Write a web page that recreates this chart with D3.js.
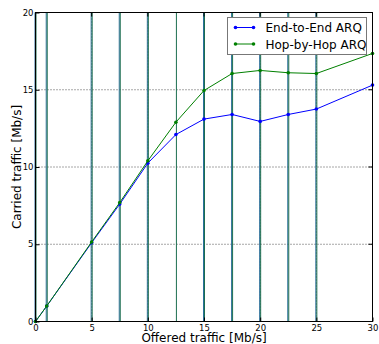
<!DOCTYPE html>
<html lang="en">
<head>
<meta charset="utf-8">
<script src="https://d3js.org/d3.v7.min.js"></script>
<style>
  body { margin: 0; background: #fff; }
  text { font-family: "DejaVu Sans", sans-serif; }
</style>
</head>
<body>
<script>
    var width = 379, height = 344;
    var padL = 35.5, padR = 372.5, padT = 12.5, padB = 321.5;

    // data
    var offered = [0, 1, 5, 7.5, 10, 12.5, 15, 17.5, 20, 22.5, 25, 30];
    var endToEnd = [0, 1, 5.1, 7.6, 10.25, 12.1, 13.1, 13.4, 12.95, 13.4, 13.75, 15.3];
    var hopByHop = [0, 1, 5.15, 7.7, 10.4, 12.9, 14.95, 16.05, 16.25, 16.1, 16.05, 17.35];
    var xTicks = [0, 5, 10, 15, 20, 25, 30];
    var yTicks = [0, 5, 10, 15, 20];
    // x positions where the (full height) error bars show up
    var blueBars = [0, 1, 5, 7.5, 10, 15, 17.5, 20, 22.5, 25];
    var greenBars = [0, 1, 5, 7.5, 10, 12.5, 15, 17.5, 20, 22.5, 25];

    var svg = d3.select("body").append("svg")
        .attr("width", width).attr("height", height);

    var x = d3.scaleLinear().domain([0, 30]).range([padL, padR]);
    var y = d3.scaleLinear().domain([0, 20]).range([padB, padT]);

    // grid
    svg.selectAll(".gx").data(xTicks).enter().append("line")
        .attr("x1", d => x(d)).attr("x2", d => x(d))
        .attr("y1", padT).attr("y2", padB)
        .attr("stroke", "#000").attr("stroke-width", 0.7)
        .attr("stroke-dasharray", "1,2");
    svg.selectAll(".gy").data(yTicks).enter().append("line")
        .attr("x1", padL).attr("x2", padR)
        .attr("y1", d => y(d)).attr("y2", d => y(d))
        .attr("stroke", "#000").attr("stroke-width", 0.7)
        .attr("stroke-dasharray", "1,2");

    // error bars (span the whole range)
    svg.selectAll(".eb").data(blueBars).enter().append("line")
        .attr("x1", d => x(d) - 0.5).attr("x2", d => x(d) - 0.5)
        .attr("y1", y(0)).attr("y2", y(20))
        .attr("stroke", "#2a6f9a").attr("stroke-width", 1);
    svg.selectAll(".eg").data(greenBars).enter().append("line")
        .attr("x1", d => x(d) + 0.5).attr("x2", d => x(d) + 0.5)
        .attr("y1", y(0)).attr("y2", y(20))
        .attr("stroke", "#1c6e50").attr("stroke-width", 1);

    var line = d3.line().x((d, i) => x(offered[i])).y(d => y(d));

    function series(vals, color) {
        svg.append("path").datum(vals)
            .attr("d", line).attr("fill", "none")
            .attr("stroke", color).attr("stroke-width", 1);
        svg.selectAll(null).data(vals).enter().append("circle")
            .attr("cx", (d, i) => x(offered[i])).attr("cy", d => y(d))
            .attr("r", 1.8).attr("fill", color);
    }
    series(endToEnd, "#0000ff");
    series(hopByHop, "#008000");

    // frame
    svg.append("rect")
        .attr("x", padL).attr("y", padT)
        .attr("width", padR - padL).attr("height", padB - padT)
        .attr("fill", "none").attr("stroke", "#000").attr("stroke-width", 1);

    // axes with inward ticks
    var xAxis = d3.axisBottom(x).tickValues(xTicks).tickSizeInner(-4).tickSizeOuter(0).tickPadding(3);
    var xg = svg.append("g").attr("transform", "translate(0," + padB + ")").call(xAxis);
    var yAxis = d3.axisLeft(y).tickValues(yTicks).tickSizeInner(-4).tickSizeOuter(0).tickPadding(2);
    var yg = svg.append("g").attr("transform", "translate(" + padL + ",0)").call(yAxis);
    [xg, yg].forEach(function(g) {
        g.select(".domain").remove();
        g.selectAll("text").attr("font-size", 8.5).attr("fill", "#000")
            .attr("font-family", "DejaVu Sans, sans-serif");
    });
    svg.selectAll(".tt").data(xTicks).enter().append("line")
        .attr("x1", d => x(d)).attr("x2", d => x(d))
        .attr("y1", padT).attr("y2", padT + 4).attr("stroke", "#000");
    svg.selectAll(".tr").data(yTicks).enter().append("line")
        .attr("x1", padR - 4).attr("x2", padR)
        .attr("y1", d => y(d)).attr("y2", d => y(d)).attr("stroke", "#000");

    // labels
    svg.append("text").attr("x", (padL + padR) / 2).attr("y", 342)
        .attr("text-anchor", "middle").attr("font-size", 12)
        .text("Offered traffic [Mb/s]");
    svg.append("text")
        .attr("transform", "translate(21," + ((padT + padB) / 2) + ") rotate(-90)")
        .attr("text-anchor", "middle").attr("font-size", 12)
        .text("Carried traffic [Mb/s]");

    // legend
    var lg = svg.append("g").attr("transform", "translate(227.5,17.5)");
    lg.append("rect").attr("width", 139).attr("height", 37)
        .attr("fill", "#fff").attr("stroke", "#777").attr("stroke-width", 1);
    var items = [["End-to-End ARQ", "#0000ff"], ["Hop-by-Hop ARQ", "#008000"]];
    items.forEach(function(it, i) {
        var yy = 10 + i * 16.5;
        lg.append("line").attr("x1", 8).attr("x2", 26).attr("y1", yy).attr("y2", yy)
            .attr("stroke", it[1]).attr("stroke-width", 1);
        lg.append("circle").attr("cx", 8).attr("cy", yy).attr("r", 1.8).attr("fill", it[1]);
        lg.append("circle").attr("cx", 26).attr("cy", yy).attr("r", 1.8).attr("fill", it[1]);
        lg.append("text").attr("x", 38).attr("y", yy + 4.5).attr("font-size", 12)
            .text(it[0]);
    });
</script>
</body>
</html>
